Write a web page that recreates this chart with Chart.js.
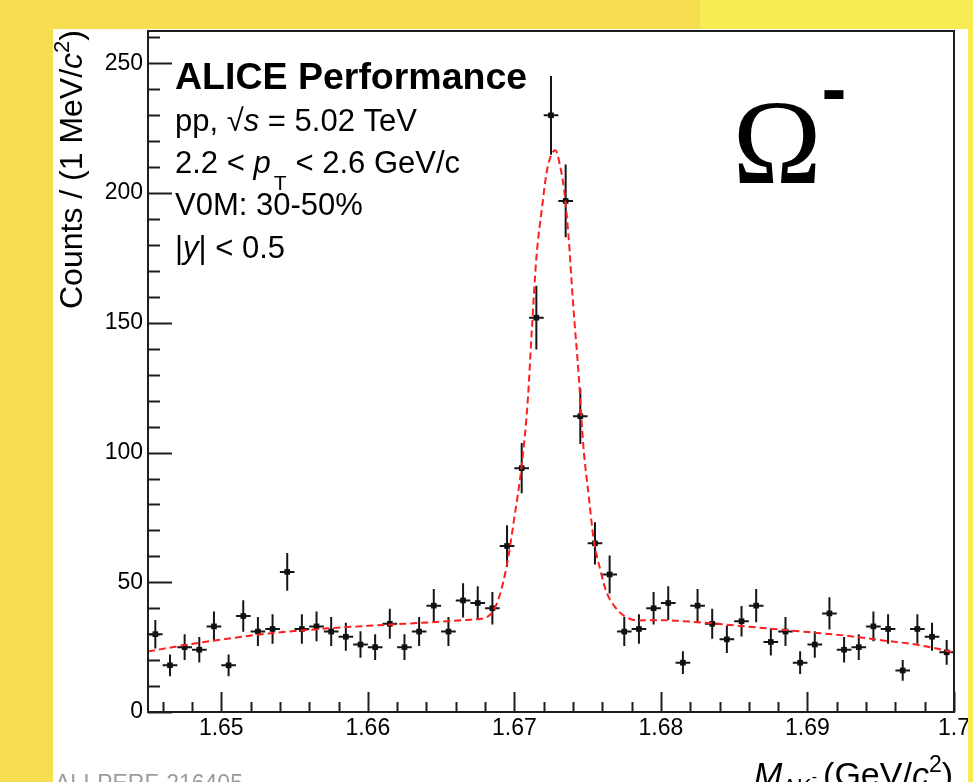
<!DOCTYPE html>
<html>
<head>
<meta charset="utf-8">
<title>Omega- invariant mass</title>
<script src="https://cdn.jsdelivr.net/npm/chart.js@4.4.1/dist/chart.umd.min.js"></script>
<style>
  html, body { margin: 0; padding: 0; background: #fff; overflow: hidden; }
  #wrap { position: relative; width: 973px; height: 782px; }
</style>
</head>
<body>
<div id="wrap"><canvas id="massChart" width="973" height="782"></canvas></div>
<script>
// invariant mass bins (GeV/c^2), 1 MeV wide
const binCenters = [
  1.6455, 1.6465, 1.6475, 1.6485, 1.6495, 1.6505, 1.6515, 1.6525, 1.6535, 1.6545,
  1.6555, 1.6565, 1.6575, 1.6585, 1.6595, 1.6605, 1.6615, 1.6625, 1.6635, 1.6645,
  1.6655, 1.6665, 1.6675, 1.6685, 1.6695, 1.6705, 1.6715, 1.6725, 1.6735, 1.6745,
  1.6755, 1.6765, 1.6775, 1.6785, 1.6795, 1.6805, 1.6815, 1.6825, 1.6835, 1.6845,
  1.6855, 1.6865, 1.6875, 1.6885, 1.6895, 1.6905, 1.6915, 1.6925, 1.6935, 1.6945,
  1.6955, 1.6965, 1.6975, 1.6985, 1.6995
];
const counts = [
  30, 18, 25, 24, 33, 18, 37, 31, 32, 54,
  32, 33, 31, 29, 26, 25, 34, 25, 31, 41,
  31, 43, 42, 40, 64, 94, 152, 230, 197, 114,
  65, 53, 31, 32, 40, 42, 19, 41, 34, 28,
  35, 41, 27, 31, 19, 26, 38, 24, 25, 33,
  32, 16, 32, 29, 23
];
// statistical errors per bin
const countErrors = [
  5.5, 4.2, 5.0, 4.9, 5.7, 4.2, 6.1, 5.6, 5.7, 7.3,
  5.7, 5.7, 5.6, 5.4, 5.1, 5.0, 5.8, 5.0, 5.6, 6.4,
  5.6, 6.6, 6.5, 6.3, 8.0, 9.7, 12.3, 15.2, 14.0, 10.7,
  8.1, 7.3, 5.6, 5.7, 6.3, 6.5, 4.4, 6.4, 5.8, 5.3,
  5.9, 6.4, 5.2, 5.6, 4.4, 5.1, 6.2, 4.9, 5.0, 5.7,
  5.7, 4.0, 5.7, 5.4, 4.8
];
const binWidth = 0.001;

// fit curve (signal + background)
const fitMass = [
  1.6450, 1.6475, 1.6500, 1.6525, 1.6550, 1.6575, 1.6600, 1.6625, 1.6650, 1.6670,
  1.6680, 1.6685, 1.6690, 1.6695, 1.6700, 1.6705, 1.6709, 1.6712, 1.6715, 1.6719,
  1.6722, 1.6725, 1.6728, 1.6731, 1.6734, 1.6737, 1.6740, 1.6744, 1.6747, 1.6751,
  1.6754, 1.6759, 1.6763, 1.6768, 1.6775, 1.6785, 1.6800, 1.6825, 1.6850, 1.6875,
  1.6900, 1.6925, 1.6950, 1.6975, 1.7000
];
const fitCounts = [
  23.3, 25.8, 27.9, 29.8, 31.2, 32.3, 33.2, 34.0, 34.8, 35.6,
  36.3, 38.5, 45, 57, 75, 95, 119, 148, 175, 195,
  208, 214.5, 216.5, 211, 201, 183, 158, 129, 103, 82,
  67, 54, 46, 41, 37, 35.3, 35.4, 34.6, 33.4, 32.1,
  30.8, 29.5, 27.7, 25.9, 23.0
];

const xTickValues = [1.65, 1.66, 1.67, 1.68, 1.69, 1.70];
const yTickValues = [0, 50, 100, 150, 200, 250];

const SANS = "'Liberation Sans', Arial, Helvetica, sans-serif";
const SERIF = "'Liberation Serif', 'Times New Roman', serif";

function drawRuns(ctx, x, y, runs) {
  let cx = x;
  runs.forEach(r => {
    ctx.font = r.font;
    ctx.fillText(r.text, cx, y + (r.dy || 0));
    cx += ctx.measureText(r.text).width + (r.gap || 0);
  });
  return cx;
}

function runsWidth(ctx, runs) {
  let w = 0;
  runs.forEach(r => {
    ctx.font = r.font;
    w += ctx.measureText(r.text).width + (r.gap || 0);
  });
  return w;
}

const pagePlugin = {
  id: 'page',
  beforeDraw(chart) {
    const ctx = chart.ctx;
    ctx.save();
    ctx.fillStyle = '#fff';
    ctx.fillRect(0, 0, chart.width, chart.height);
    ctx.restore();
  },
  afterDraw(chart) {
    const ctx = chart.ctx;
    ctx.save();
    ctx.fillStyle = 'rgb(246,222,80)';
    ctx.fillRect(0, 0, 53, chart.height);
    ctx.fillRect(0, 0, 700, 29);
    ctx.fillStyle = 'rgb(247,236,84)';
    ctx.fillRect(700, 0, chart.width - 700, 29);
    ctx.fillRect(968, 0, chart.width - 968, chart.height);
    ctx.restore();
  }
};

// frame and inward ticks on the left and bottom axes
const framePlugin = {
  id: 'frame',
  afterDatasetsDraw(chart) {
    const ctx = chart.ctx;
    const a = chart.chartArea;
    const xs = chart.scales.x, ys = chart.scales.y;
    ctx.save();
    ctx.strokeStyle = '#1e1e1e';
    ctx.lineWidth = 2;
    ctx.strokeRect(a.left, a.top, a.right - a.left, a.bottom - a.top);
    ctx.beginPath();
    for (let v = 0; v <= 262; v += 10) {
      const py = Math.round(ys.getPixelForValue(v)) + 0.5;
      const len = v % 50 === 0 ? 24 : 12;
      ctx.moveTo(a.left, py);
      ctx.lineTo(a.left + len, py);
    }
    for (let k = 1646; k <= 1700; k += 2) {
      const px = Math.round(xs.getPixelForValue(k / 1000)) + 0.5;
      const len = k % 10 === 0 ? 20 : 10;
      ctx.moveTo(px, a.bottom);
      ctx.lineTo(px, a.bottom - len);
    }
    ctx.stroke();
    ctx.restore();
  }
};

const errorBarPlugin = {
  id: 'errorBars',
  beforeDatasetsDraw(chart) {
    const ctx = chart.ctx;
    const xs = chart.scales.x, ys = chart.scales.y;
    ctx.save();
    ctx.strokeStyle = '#151515';
    ctx.lineWidth = 2;
    ctx.beginPath();
    binCenters.forEach((m, i) => {
      const px = xs.getPixelForValue(m);
      const py = ys.getPixelForValue(counts[i]);
      ctx.moveTo(px, ys.getPixelForValue(counts[i] - countErrors[i]));
      ctx.lineTo(px, ys.getPixelForValue(counts[i] + countErrors[i]));
      ctx.moveTo(xs.getPixelForValue(m - binWidth / 2), py);
      ctx.lineTo(xs.getPixelForValue(m + binWidth / 2), py);
    });
    ctx.stroke();
    ctx.restore();
  }
};

const labelPlugin = {
  id: 'labels',
  afterDraw(chart) {
    const ctx = chart.ctx;
    ctx.save();
    ctx.fillStyle = '#000';
    ctx.textBaseline = 'alphabetic';
    ctx.textAlign = 'left';

    ctx.font = `bold 37.5px ${SANS}`;
    ctx.fillText('ALICE Performance', 175, 89);

    const f = `31px ${SANS}`, fi = `italic 31px ${SANS}`;
    drawRuns(ctx, 175, 131, [
      { text: 'pp, ', font: f },
      { text: '\u221A', font: f },
      { text: 's', font: fi },
      { text: ' = 5.02 TeV', font: f }
    ]);
    drawRuns(ctx, 175, 173, [
      { text: '2.2 < ', font: f },
      { text: 'p', font: fi, gap: 3 },
      { text: 'T', font: `21px ${SANS}`, dy: 17, gap: 9 },
      { text: '< 2.6 GeV/c', font: f }
    ]);
    ctx.font = f;
    ctx.fillText('V0M: 30-50%', 175, 215);
    drawRuns(ctx, 175, 258, [
      { text: '|', font: f },
      { text: 'y', font: fi },
      { text: '| < 0.5', font: f }
    ]);

    // particle symbol
    ctx.textAlign = 'center';
    ctx.font = `120px ${SERIF}`;
    ctx.fillText('\u03A9', 777, 183);
    ctx.font = `bold 75px ${SANS}`;
    ctx.fillText('-', 834, 114);
    ctx.textAlign = 'left';

    // y axis title, rotated, aligned to the top of the axis
    const yRuns = [
      { text: 'Counts / (1 MeV/', font: `32px ${SANS}` },
      { text: 'c', font: `italic 32px ${SANS}` },
      { text: '2', font: `22px ${SANS}`, dy: -13 },
      { text: ')', font: `32px ${SANS}` }
    ];
    ctx.save();
    ctx.translate(82, 30);
    ctx.rotate(-Math.PI / 2);
    drawRuns(ctx, -runsWidth(ctx, yRuns), 0, yRuns);
    ctx.restore();

    // x axis title, aligned to the right end
    const xRuns = [
      { text: 'M', font: `italic 34px ${SANS}` },
      { text: '\u039BK', font: `22px ${SANS}`, dy: 8 },
      { text: '-', font: `16px ${SANS}`, dy: -4, gap: 6 },
      { text: '(GeV/', font: `34px ${SANS}` },
      { text: 'c', font: `italic 34px ${SANS}` },
      { text: '2', font: `23px ${SANS}`, dy: -14 },
      { text: ')', font: `34px ${SANS}` }
    ];
    drawRuns(ctx, 953 - runsWidth(ctx, xRuns), 786, xRuns);

    ctx.fillStyle = '#9c9c9c';
    ctx.font = `23px ${SANS}`;
    ctx.fillText('ALI-PERF-216405', 55, 791);
    ctx.restore();
  }
};

const ctx = document.getElementById('massChart').getContext('2d');

const massChart = new Chart(ctx, {
  type: 'scatter',
  data: {
    datasets: [
      {
        label: 'fit',
        data: fitMass.map((m, i) => ({ x: m, y: fitCounts[i] })),
        showLine: true,
        cubicInterpolationMode: 'monotone',
        borderColor: 'rgb(255,30,30)',
        borderWidth: 2,
        borderDash: [7, 4],
        pointRadius: 0,
        order: 1
      },
      {
        label: 'data',
        data: binCenters.map((m, i) => ({ x: m, y: counts[i] })),
        pointStyle: 'rect',
        pointRadius: 4,
        backgroundColor: '#111',
        borderWidth: 0,
        order: 2
      }
    ]
  },
  options: {
    responsive: false,
    animation: false,
    devicePixelRatio: 1,
    layout: { padding: { top: 31, right: 18, left: 0, bottom: 0 } },
    plugins: {
      legend: { display: false },
      tooltip: { enabled: false }
    },
    scales: {
      x: {
        type: 'linear',
        min: 1.645,
        max: 1.70,
        grid: { display: false, drawTicks: false },
        border: { display: false },
        ticks: {
          color: '#000',
          font: { family: SANS, size: 23 },
          padding: 3,
          maxRotation: 0,
          autoSkip: false,
          callback: v => String(Number(v.toFixed(3)))
        },
        afterBuildTicks: s => { s.ticks = xTickValues.map(v => ({ value: v })); },
        afterFit: s => { s.height = 70; }
      },
      y: {
        type: 'linear',
        min: 0,
        max: 262.5,
        grid: { display: false, drawTicks: false },
        border: { display: false },
        ticks: {
          color: '#000',
          font: { family: SANS, size: 23 },
          padding: 5
        },
        afterBuildTicks: s => { s.ticks = yTickValues.map(v => ({ value: v })); },
        afterFit: s => { s.width = 148; }
      }
    }
  },
  plugins: [pagePlugin, errorBarPlugin, framePlugin, labelPlugin]
});
</script>
</body>
</html>
